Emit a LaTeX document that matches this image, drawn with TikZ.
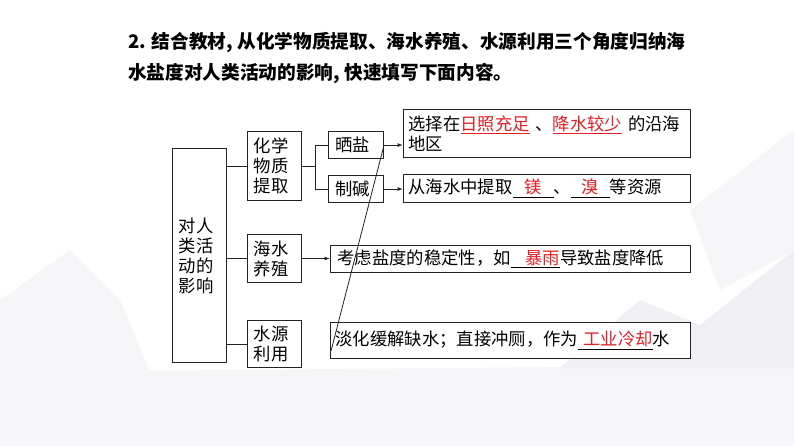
\documentclass[tikz,border=0pt]{standalone}
\usepackage{fontspec}
\setmainfont{Noto Sans CJK SC}
\usetikzlibrary{arrows.meta,positioning,calc}
\definecolor{linecol}{RGB}{35,35,35}
\definecolor{anscol}{RGB}{228,30,38}
\definecolor{bgcol}{RGB}{240,240,244}
\definecolor{bglight}{RGB}{246,246,249}

\begin{document}
\begin{tikzpicture}[
    x=0.75pt, y=-0.75pt,
    >={Latex[length=4pt,width=3pt]},
    box/.style={draw=linecol, line width=0.8pt, fill=white, anchor=north west, inner sep=0pt, align=left, font=\fontsize{13}{15}\selectfont},
    title/.style={anchor=west, inner sep=0pt, font=\fontsize{14}{17}\selectfont\bfseries},
    link/.style={draw=linecol, line width=0.8pt},
    arrow/.style={link, ->},
]
\useasboundingbox[fill=white] (0,0) rectangle (794,446);
% faint background
\fill[bglight] (0,372) -- (794,365) -- (794,446) -- (0,446) -- cycle;
\fill[bglight] (0,300) -- (70,250) -- (120,300) -- (150,372) -- (0,372) -- cycle;
\fill[bgcol] (560,368) -- (640,300) -- (700,325) -- (794,250) -- (794,368) -- cycle;
\fill[bglight] (690,210) -- (794,130) -- (794,250) -- (720,290) -- cycle;

\node[title] (title1) at (128,43) {2. 结合教材, 从化学物质提取、海水养殖、水源利用三个角度归纳海};
\node[title] (title2) at (128,74) {水盐度对人类活动的影响, 快速填写下面内容。};

\node[box, minimum width=40.5pt, minimum height=160.5pt, text width=31pt] (impact) at (172,148) {对人\\类活\\动的\\影响};
\node[box, minimum width=40.5pt, minimum height=51.75pt, text width=31pt] (chem) at (247,131) {化学\\物质\\提取};
\node[box, minimum width=40.5pt, minimum height=36pt, text width=31pt] (farm) at (247,234) {海水\\养殖};
\node[box, minimum width=40.5pt, minimum height=35.25pt, text width=31pt] (water) at (247,320) {水源\\利用};

\node[box, minimum width=41.25pt, minimum height=20.25pt, text width=30.75pt] (salt) at (328,131) {晒盐};
\node[box, minimum width=41.25pt, minimum height=20.25pt, text width=30.75pt] (soda) at (328,175) {制碱};

\node[box, minimum width=215.25pt, minimum height=36pt, text width=207.75pt] (saltnote) at (403,109)
    {选择在\textcolor{anscol}{\underline{日照充足}}\ 、\textcolor{anscol}{\underline{降水较少}}\ 的沿海\\地区};
\node[box, minimum width=215.25pt, minimum height=21pt, text width=207.75pt] (sodanote) at (403,174)
    {从海水中提取\underline{\hspace{9pt}\textcolor{anscol}{镁}\hspace{9pt}}、\underline{\hspace{8pt}\textcolor{anscol}{溴}\hspace{8pt}}等资源};
\node[box, minimum width=270pt, minimum height=20.25pt, text width=259.5pt] (farmnote) at (330,245)
    {考虑盐度的稳定性，如\underline{\hspace{11pt}\textcolor{anscol}{暴雨}}导致盐度降低};
\node[box, minimum width=270pt, minimum height=27pt, text width=262.5pt] (waternote) at (330,322)
    {淡化缓解缺水；直接冲厕，作为\underline{\hspace{4pt}\textcolor{anscol}{工业冷却}}水};

\foreach \n in {chem,farm,water} {
    \draw[link] (impact.east |- \n.west) -- (\n.west);
}
\coordinate (fork) at ($(chem.east)!0.5!(salt.west |- chem.east)$);
\draw[link] (chem.east) -- (fork);
\draw[link] (salt.west) -| (fork) |- (soda.west);

\draw[arrow] (salt.east) -- (salt.east -| saltnote.west);
\draw[arrow] (soda.east) -- (soda.east -| sodanote.west);
\draw[arrow] (farm.east) -- (farm.east -| farmnote.west);

\coordinate (slipend) at (331,351);
\draw[link, line width=0.6pt] (salt.east) -- (slipend);
\end{tikzpicture}
\end{document}
